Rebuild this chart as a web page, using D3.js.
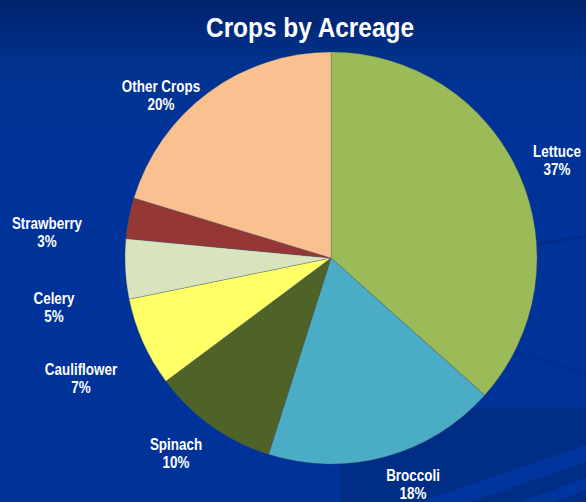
<!DOCTYPE html>
<html>
<head>
<meta charset="utf-8">
<script src="https://cdn.jsdelivr.net/npm/d3@7"></script>
<style>
html,body{margin:0;padding:0;background:#003399;}
svg{display:block;}
</style>
</head>
<body>
<svg id="chart" width="586" height="502"></svg>
<script>
const title = "Crops by Acreage";
const categories = ["Lettuce","Broccoli","Spinach","Cauliflower","Celery","Strawberry","Other Crops"];
const values = [36.6, 18.3, 9.9, 7.0, 4.7, 3.2, 20.3];
const colors = ["#9BBB59","#4BACC6","#4F6228","#FFFF66","#D7E4BD","#953735","#FAC090"];
// label anchor (centre x, first baseline y) per slice
const labelPos = [[557,157],[413,481],[176,450],[81,375],[54,304],[47,229],[161,92]];
const leaders = [null,null,null,[121,128,376],[77,84,305],[86,93,230],null];

const W = 586, H = 502;
const svg = d3.select("#chart");
const font = "'Liberation Sans','Arial',sans-serif";

const defs = svg.append("defs");
const g1 = defs.append("linearGradient").attr("id","bg").attr("x1",0).attr("y1",0).attr("x2",0).attr("y2",1);
g1.append("stop").attr("offset","0%").attr("stop-color","#00226c");
g1.append("stop").attr("offset","13%").attr("stop-color","#00338f");
g1.append("stop").attr("offset","30%").attr("stop-color","#003399");
g1.append("stop").attr("offset","100%").attr("stop-color","#003399");
svg.append("rect").attr("width",W).attr("height",H).attr("fill","url(#bg)");
// darker panel bottom-right
svg.append("rect").attr("x",340).attr("y",408).attr("width",W-340).attr("height",H-408).attr("fill","#002d86");
// light diagonal stripes bottom right
svg.append("path").attr("d","M420,502 L586,445 L586,462 L470,502 Z").attr("fill","#0036a0").attr("opacity",0.9);
svg.append("path").attr("d","M520,502 L586,478 L586,490 L555,502 Z").attr("fill","#0036a0").attr("opacity",0.9);
// faint dark lines right side
svg.append("path").attr("d","M536,245 Q560,240 586,236").attr("stroke","#002a85").attr("stroke-width",3).attr("fill","none").attr("opacity",0.6);
svg.append("path").attr("d","M515,352 Q550,362 586,375").attr("stroke","#002a85").attr("stroke-width",1.5).attr("fill","none").attr("opacity",0.6);

svg.append("text").attr("x",310).attr("y",37).attr("text-anchor","middle")
  .attr("fill","#ffffff").attr("font-family",font).attr("font-weight","bold")
  .attr("font-size",27).attr("textLength",208).attr("lengthAdjust","spacingAndGlyphs").text(title);

const cx = 331, cy = 258, r = 206;
const pie = d3.pie().sort(null).value(d => d);
const arcs = pie(values);
const arc = d3.arc().innerRadius(0).outerRadius(r);
const total = d3.sum(values);

const gp = svg.append("g").attr("transform",`translate(${cx},${cy})`);
gp.selectAll("path").data(arcs).join("path")
  .attr("d",arc)
  .attr("fill",(d,i)=>colors[i])
  .attr("stroke","rgba(90,90,90,0.55)")
  .attr("stroke-width",0.6);

const lg = svg.append("g").attr("font-family",font).attr("font-weight","bold")
  .attr("font-size",16).attr("fill","#ffffff").attr("text-anchor","middle");
categories.forEach((c,i)=>{
  const [x,y] = labelPos[i];
  const gg = lg.append("g").attr("transform",`translate(${x},${y}) scale(0.84,1)`);
  gg.append("text").attr("x",0).attr("y",0).text(c);
  gg.append("text").attr("x",0).attr("y",18.5).text(Math.round(values[i]/total*100)+"%");
  if (leaders[i]) {
    const [x1,x2,ly] = leaders[i];
    svg.append("line").attr("x1",x1).attr("x2",x2).attr("y1",ly).attr("y2",ly)
      .attr("stroke","#1c2f66").attr("stroke-width",1);
  }
});
</script>
</body>
</html>
